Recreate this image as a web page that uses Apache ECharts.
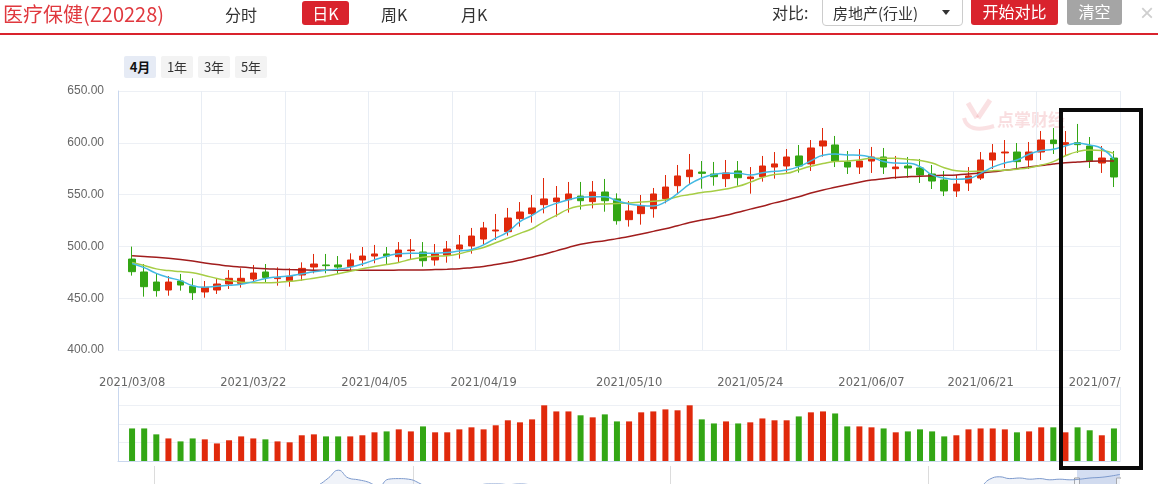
<!DOCTYPE html>
<html>
<head>
<meta charset="utf-8">
<script src="https://cdn.jsdelivr.net/npm/echarts@6.0.0/dist/echarts.min.js"></script>
<style>
    body { margin: 0; background: #fff; font-family: "Noto Sans CJK SC", sans-serif; }
    #wrap { position: relative; width: 1158px; height: 484px; overflow: hidden; }
    #chart { position: absolute; left: 0; top: 0; width: 1121px; height: 484px; }
    .t { position: absolute; white-space: nowrap; line-height: 1; color: #333; }
    .btn { position: absolute; color: #fff; text-align: center; font-size: 16px; border-radius: 3px; }
    .rng { position: absolute; top: 56px; width: 32px; height: 22px; line-height: 22px; font-size: 13px;
           text-align: center; background: #f3f3f3; color: #333; border-radius: 2px; }
</style>
</head>
<body>
<div id="wrap">
    <div id="chart"></div>
    <!-- 顶部工具条 -->
    <div style="position:absolute;left:0;top:33px;width:1158px;height:2px;background:#d9232d"></div>
    <span class="t" style="left:3px;top:4px;font-size:20px;color:#e0383e">医疗保健(Z20228)</span>
    <span class="t" style="left:225px;top:6px;font-size:16px">分时</span>
    <div class="btn" style="left:302px;top:1px;width:47px;height:24px;line-height:24px;background:#d9232d">日K</div>
    <span class="t" style="left:381px;top:6px;font-size:16px">周K</span>
    <span class="t" style="left:461px;top:6px;font-size:16px">月K</span>
    <span class="t" style="left:772px;top:4px;font-size:16px">对比:</span>
    <div style="position:absolute;left:822px;top:-4px;width:139px;height:28px;border:1px solid #ccc;border-radius:4px"></div>
    <span class="t" style="left:833px;top:5px;font-size:15px">房地产(行业)</span>
    <div style="position:absolute;left:942px;top:10px;width:0;height:0;border-left:4px solid transparent;border-right:4px solid transparent;border-top:5px solid #333"></div>
    <div class="btn" style="left:971px;top:-3px;width:87px;height:28px;line-height:29px;background:#d9232d">开始对比</div>
    <div class="btn" style="left:1067px;top:-3px;width:55px;height:28px;line-height:29px;background:#a5a5a5">清空</div>
    <span class="t" style="left:1140px;top:1px;font-size:24px;color:#cfcfcf;font-family:'Liberation Sans'">×</span>
    <!-- 区间按钮 -->
    <div class="rng" style="left:124px;background:#e6ebf5;font-weight:bold;color:#111">4月</div>
    <div class="rng" style="left:161px">1年</div>
    <div class="rng" style="left:198px">3年</div>
    <div class="rng" style="left:235px">5年</div>
    <!-- 标注框 -->
    <div style="position:absolute;left:1059px;top:108px;width:84px;height:362px;border:4px solid #0a0a0a;box-sizing:border-box"></div>
</div>
<script>
    // 交易日
    var dates = [
        '2021/03/08','2021/03/09','2021/03/10','2021/03/11','2021/03/12','2021/03/15','2021/03/16','2021/03/17','2021/03/18','2021/03/19',
        '2021/03/22','2021/03/23','2021/03/24','2021/03/25','2021/03/26','2021/03/29','2021/03/30','2021/03/31',
        '2021/04/01','2021/04/02','2021/04/06','2021/04/07','2021/04/08','2021/04/09','2021/04/12','2021/04/13','2021/04/14','2021/04/15','2021/04/16',
        '2021/04/19','2021/04/20','2021/04/21','2021/04/22','2021/04/23','2021/04/26','2021/04/27','2021/04/28','2021/04/29','2021/04/30',
        '2021/05/06','2021/05/07','2021/05/10','2021/05/11','2021/05/12','2021/05/13','2021/05/14','2021/05/17','2021/05/18','2021/05/19','2021/05/20','2021/05/21',
        '2021/05/24','2021/05/25','2021/05/26','2021/05/27','2021/05/28','2021/05/31',
        '2021/06/01','2021/06/02','2021/06/03','2021/06/04','2021/06/07','2021/06/08','2021/06/09','2021/06/10','2021/06/11',
        '2021/06/15','2021/06/16','2021/06/17','2021/06/18','2021/06/21','2021/06/22','2021/06/23','2021/06/24','2021/06/25',
        '2021/06/28','2021/06/29','2021/06/30','2021/07/01','2021/07/02','2021/07/05','2021/07/06'
    ];
    var opens = [487.8,475.3,465.6,457.9,466.6,461.5,456.0,457.9,463.7,464.4,468.5,475.3,468.9,466.9,472.4,480.1,482.1,482.1,480.4,486.9,
        490.7,492.7,490.1,495.9,494.6,486.9,491.7,497.5,500.4,507.1,514.9,514.2,526.8,531.6,540.3,543.2,545.1,548.6,543.2,552.5,
        545.8,525.8,531.6,536.4,546.1,558.6,567.3,571.8,569.9,565.4,572.8,565.4,567.3,576.6,577.6,587.3,579.6,596.9,597.9,581.5,
        576.6,582.4,586.3,575.0,577.6,575.7,569.9,564.1,553.5,561.2,566.0,583.4,590.2,591.1,583.4,591.1,602.7,598.2,600.1,596.9,
        580.5,585.3];
    var closes = [475.6,461.1,457.3,465.6,462.7,455.3,460.5,463.7,469.2,469.2,474.3,470.1,469.8,471.1,478.8,483.0,481.4,480.1,486.9,490.7,
        492.7,490.7,496.5,496.5,486.2,492.7,497.5,501.4,510.0,517.8,515.8,527.4,533.2,537.1,545.8,546.7,550.6,544.1,552.5,544.1,
        524.8,534.2,539.3,550.6,557.3,568.0,573.7,570.5,567.3,570.9,566.3,567.0,577.6,579.6,586.3,577.6,595.0,601.8,582.4,576.6,
        582.4,586.3,576.6,576.6,575.7,568.9,563.1,553.5,560.2,568.0,583.4,590.2,591.1,581.8,591.1,602.7,599.2,600.1,598.2,582.1,
        585.3,567.0];
    var lows = [471.8,451.5,451.5,452.4,457.3,448.3,450.5,454.1,458.9,460.2,465.0,465.0,462.1,461.1,466.9,474.0,474.0,473.4,475.6,481.1,
        483.7,483.0,484.3,487.8,480.4,481.4,484.3,488.2,493.0,501.7,506.2,510.4,519.1,522.9,531.9,528.7,532.6,535.5,536.7,533.5,
        521.0,519.1,521.0,527.7,541.6,550.3,559.3,555.7,558.6,557.3,558.6,550.9,562.5,565.4,571.2,571.2,572.8,586.6,576.6,569.9,
        569.9,570.9,569.9,565.1,566.3,561.2,555.4,548.6,547.7,553.5,564.1,574.7,575.7,574.7,574.7,583.4,589.2,588.2,590.2,575.7,
        570.9,557.3];
    var highs = [499.8,483.0,474.0,471.4,473.4,469.2,466.6,469.2,477.2,478.8,482.1,483.0,479.8,478.8,484.6,492.7,492.7,490.7,493.3,499.4,
        501.4,499.4,504.2,507.1,504.2,502.3,505.2,511.0,517.8,523.6,531.3,537.1,542.8,549.6,566.0,558.3,562.2,562.2,563.1,565.1,
        551.2,543.8,549.6,556.4,568.9,578.6,589.2,582.4,581.5,583.4,582.4,576.6,587.3,591.1,594.0,597.9,602.7,614.3,606.6,592.1,
        594.0,596.0,595.0,587.3,586.3,584.4,578.6,572.8,568.9,576.6,591.1,598.8,602.7,599.8,600.8,611.4,614.3,611.4,618.2,605.6,
        596.9,592.1];
    var volumes = [176,176,144,122,106,122,117,95,112,133,122,117,106,101,139,144,133,133,133,139,
        155,160,171,160,187,155,155,171,182,171,193,220,209,225,301,268,268,247,236,252,
        214,214,263,268,279,274,301,225,203,214,203,209,230,220,220,241,263,268,257,187,
        187,182,176,155,160,171,160,133,139,171,176,176,171,155,160,182,182,155,182,166,
        139,176];
    // 均线
    var ma5 = [483.5,479.5,474,470,467,462,460.5,461.5,462.5,463.5,466,469,470.5,471.5,473.5,475.5,477,478,480,483,
        487,490.5,493,493.3,493.3,493.5,494,495.5,497,501.5,508,514,524,530,537,541.5,545,547.5,548,548,
        544,541,539.5,539,543,551,560,566,569.5,570.5,570.5,569,571,572.5,573.7,577,582.5,588,589.2,588.3,
        588,586,582,580.5,580.2,577,569,566,564.7,565.5,570.5,576.5,580.5,583.4,589,592.5,593.7,597,599.5,597.8,
        594.5,584];
    var ma10 = [484.5,481.5,478.3,476.7,475.7,474.5,472,469,467,465.5,465,464.8,465.2,466.3,467.5,469.3,471.3,473.5,476,478.5,
        480.5,482.5,484.5,487.5,489.5,490.5,491,493,496,499,503.5,508,512.6,517,524,530,536,539,540.5,541,
        541.5,542,542.8,543.5,545,548,550,552,553.5,555.5,558,562,566.5,569.5,570.5,574,577.3,580,582,582.5,
        583.5,585,585,585,584,583,580.5,576,573,572.3,572.6,573,573.5,574.5,576,578.5,581.8,587.5,591.5,593,
        592.5,589.8];
    var ma60 = [491,490.3,489.5,488.5,487.3,485.8,484,482.5,481,480,479.2,478.5,478,477.6,477.3,477,477,476.9,476.9,476.9,
        477,477,477.1,477.2,477.3,477.6,478,478.5,479.5,480.7,482.5,484.5,486.9,489.5,492.5,495.7,499,502,504,505.5,
        507.5,509.5,512,514.5,517,520,523,525.5,527.5,530,533,536,538.7,542,544.8,548,551.5,554.5,557,559.5,
        562,564,565.3,566.5,567.2,567.8,568.2,568.6,569,569.8,570.8,572,573.5,575,576.7,578,579.5,580.7,581.5,582.2,
        582.4,582.4];
    var xTickLabels = ['2021/03/08','2021/03/22','2021/04/05','2021/04/19','2021/05/10','2021/05/24','2021/06/07','2021/06/21','2021/07/05'];
    // 底部缩略图的历史走势
    var shadowLine = [50,52,50,48,51,53,50,49,52,54,50,51,53,55,52,50,54,56,58,
        60,68,80,93,80,77,73,66,78,79,78,72,62,
        58,60,62,65,68,70,70,69,70,69,
        64,60,58,56,57,59,60,58,56,55,57,58,60,61,59,57,56,58,60,62,61,59,58,57,56,58,60,61,62,60,59,58,57,59,61,62,63,61,60,59,58,60,62,64,
        66,78,82,79,80,78,79,77,78,77,78,80,81,83,86];

    var UP = '#e0290b', DOWN = '#33a614';
    var GRIDC = '#edf0f5', AXISC = '#c9d7ee';

    var candleData = dates.map(function (d, i) { return [opens[i], closes[i], lows[i], highs[i]]; });
    var volData = volumes.map(function (v, i) {
        return { value: v, itemStyle: { color: closes[i] >= opens[i] ? UP : DOWN } };
    });
    var tickByDate = {};
    xTickLabels.forEach(function (t) {
        var idx = dates.findIndex(function (d) { return d >= t; });
        if (idx >= 0) tickByDate[dates[idx]] = t;
    });
    var shadowIdx = shadowLine.map(function (v, i) { return i; });

    var charts = echarts.init(document.getElementById('chart'));
    var option = {
        animation: false,
        grid: [
            { left: 118, right: 1, top: 91, height: 259, outerBoundsMode: 'none' },
            { left: 126, right: 1, top: 91, height: 259, outerBoundsMode: 'none' },
            { left: 118, right: 1, top: 387, height: 74, outerBoundsMode: 'none' },
            { left: 126, right: 1, top: 387, height: 74, outerBoundsMode: 'none' },
            { left: 118, right: 1, top: 466, height: 60, outerBoundsMode: 'none' }
        ],
        xAxis: [
            { gridIndex: 0, type: 'value', min: 0, max: 12, interval: 1,
              axisLine: { show: false }, axisTick: { show: false }, axisLabel: { show: false },
              splitLine: { show: true, lineStyle: { color: '#e8edf4' } } },
            { gridIndex: 1, type: 'category', data: dates, boundaryGap: true,
              axisLine: { show: false }, axisTick: { show: false }, splitLine: { show: false },
              axisLabel: {
                  margin: 27, fontSize: 11.5, color: '#666', fontFamily: 'DejaVu Sans',
                  interval: function (i, v) { return tickByDate[v] !== undefined; },
                  formatter: function (v) { return tickByDate[v] || ''; }
              } },
            { gridIndex: 2, type: 'value', min: 0, max: 1, interval: 1,
              axisLine: { show: true, lineStyle: { color: AXISC } }, axisTick: { show: false }, axisLabel: { show: false },
              splitLine: { show: true, lineStyle: { color: '#e8edf4' } } },
            { gridIndex: 3, type: 'category', data: dates, boundaryGap: true, show: false },
            { gridIndex: 4, type: 'category', data: shadowIdx, boundaryGap: false, position: 'top',
              axisLine: { show: true, lineStyle: { color: '#d8d8d8' } }, axisTick: { show: false },
              axisLabel: { show: false }, splitLine: { show: false } }
        ],
        yAxis: [
            { gridIndex: 0, type: 'value', min: 400, max: 650, interval: 50,
              axisLine: { show: true, lineStyle: { color: AXISC } }, axisTick: { show: false },
              axisLabel: { margin: 14, color: '#666', fontSize: 12, fontFamily: 'Liberation Sans',
                           formatter: function (v) { return v.toFixed(2); } },
              splitLine: { show: true, lineStyle: { color: GRIDC } } },
            { gridIndex: 1, type: 'value', min: 400, max: 650, show: false },
            { gridIndex: 2, type: 'value', min: 0, max: 400, interval: 100,
              axisLine: { show: true, lineStyle: { color: AXISC } }, axisTick: { show: false },
              axisLabel: { show: false }, splitLine: { show: true, lineStyle: { color: GRIDC } } },
            { gridIndex: 3, type: 'value', min: 0, max: 400, show: false },
            { gridIndex: 4, type: 'value', min: 0, max: 100, show: false }
        ],
        series: [
            { name: '日K', type: 'candlestick', xAxisIndex: 1, yAxisIndex: 1, data: candleData,
              barWidth: 7, z: 2,
              itemStyle: { color: UP, color0: DOWN, borderColor: UP, borderColor0: DOWN, borderWidth: 1 } },
            { name: 'MA60', type: 'line', xAxisIndex: 1, yAxisIndex: 1, data: ma60, smooth: true,
              symbol: 'none', z: 3, lineStyle: { color: '#a11d1d', width: 1.5 } },
            { name: 'MA10', type: 'line', xAxisIndex: 1, yAxisIndex: 1, data: ma10, smooth: true,
              symbol: 'none', z: 3, lineStyle: { color: '#a6cd45', width: 1.5 } },
            { name: 'MA5', type: 'line', xAxisIndex: 1, yAxisIndex: 1, data: ma5, smooth: true,
              symbol: 'none', z: 4, lineStyle: { color: '#43b9e3', width: 1.5 } },
            { name: '成交量', type: 'bar', xAxisIndex: 3, yAxisIndex: 3, data: volData, barWidth: 6 },
            { name: '历史', type: 'line', xAxisIndex: 4, yAxisIndex: 4, data: shadowLine, smooth: true,
              symbol: 'none', lineStyle: { color: '#7c99cc', width: 1 },
              areaStyle: { color: 'rgba(200,212,235,0.4)' } }
        ],
        graphic: [
            // 水印
            { type: 'polyline', shape: { points: [[968, 103], [977, 118]] }, style: { stroke: 'rgba(226,90,100,0.18)', lineWidth: 5 } },
            { type: 'polyline', shape: { points: [[990, 100], [978, 118]] }, style: { stroke: 'rgba(226,90,100,0.18)', lineWidth: 5 } },
            { type: 'bezierCurve', shape: { x1: 964, y1: 118, x2: 994, y2: 126, cpx1: 968, cpy1: 134 },
              style: { stroke: 'rgba(226,90,100,0.18)', lineWidth: 4, fill: null } },
            { type: 'text', left: 997, top: 111, style: { text: '点掌财经',
              fill: 'rgba(226,90,100,0.2)', font: 'bold 17px "Noto Sans CJK SC"' } },
            // 缩略图刻度线与选区
            { type: 'line', shape: { x1: 154.5, y1: 466, x2: 154.5, y2: 484 }, style: { stroke: '#dcdcdc' } },
            { type: 'line', shape: { x1: 413.5, y1: 466, x2: 413.5, y2: 484 }, style: { stroke: '#dcdcdc' } },
            { type: 'line', shape: { x1: 670.5, y1: 466, x2: 670.5, y2: 484 }, style: { stroke: '#dcdcdc' } },
            { type: 'line', shape: { x1: 928.5, y1: 466, x2: 928.5, y2: 484 }, style: { stroke: '#dcdcdc' } },
            { type: 'rect', shape: { x: 1077, y: 467, width: 43, height: 20 }, style: { fill: 'rgba(160,182,226,0.45)' } },
            { type: 'rect', shape: { x: 1074.5, y: 478, width: 5, height: 10 }, style: { fill: '#fff', stroke: '#999' } },
            { type: 'rect', shape: { x: 1116.5, y: 478, width: 5, height: 10 }, style: { fill: '#fff', stroke: '#999' } }
        ]
    };
    charts.setOption(option);
</script>
</body>
</html>
